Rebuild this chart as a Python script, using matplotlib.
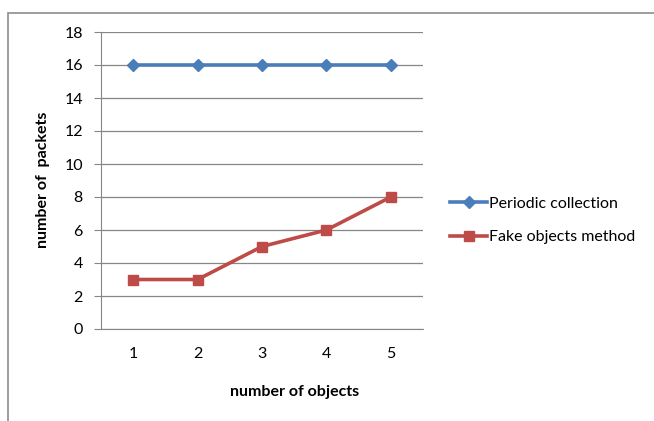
import matplotlib.pyplot as plt
from matplotlib.patches import Rectangle

objects = [1, 2, 3, 4, 5]
periodic = [16, 16, 16, 16, 16]
fake_objects = [3, 3, 5, 6, 8]
y_ticks = [0, 2, 4, 6, 8, 10, 12, 14, 16, 18]

plt.rcParams['font.family'] = ['Lato', 'DejaVu Sans']

W, H = 654, 421
fig = plt.figure(figsize=(W / 100, H / 100), dpi=100)

# chart border (runs off the right and bottom edges)
fig.patches.append(Rectangle((8 / W, -0.1), 1.2, 1.1 - 13 / H, transform=fig.transFigure,
                             fill=False, edgecolor='#8c8c8c', lw=1.2))

ax = fig.add_axes([101 / W, 1 - 329 / H, (423 - 101) / W, (329 - 32) / H])

grid_c = '#868686'
ax.plot(objects, periodic, color='#4A7EBB', lw=2.6, marker='D', ms=6.5,
        label='Periodic collection')
ax.plot(objects, fake_objects, color='#BE4B48', lw=2.6, marker='s', ms=7.5,
        label='Fake objects method')

ax.set_xlim(0.5, 5.5)
ax.set_ylim(0, 18)
ax.set_yticks(y_ticks)
ax.set_xticks(objects)
ax.grid(axis='y', color=grid_c, lw=0.9)
ax.set_axisbelow(True)
for s in ['top', 'right']:
    ax.spines[s].set_visible(False)
ax.spines['left'].set_color(grid_c)
ax.spines['bottom'].set_color(grid_c)
ax.tick_params(axis='y', length=5, color=grid_c, labelsize=11.5, pad=8)
ax.tick_params(axis='x', length=0, labelsize=11.5, pad=13)

fig.text(43 / W, 1 - 180 / H, 'number of  packets', rotation=90, ha='center', va='center',
         fontsize=11.5, fontweight='bold')
fig.text(295 / W, 1 - 392 / H, 'number of objects', ha='center', va='center',
         fontsize=11.5, fontweight='bold')

ax.legend(loc='center left', bbox_to_anchor=(436 / W, 1 - 220.5 / H),
          bbox_transform=fig.transFigure, frameon=False, fontsize=11.5,
          handlelength=2.3, handletextpad=0.1, labelspacing=1.2)

fig.savefig('out.png', dpi=100)
